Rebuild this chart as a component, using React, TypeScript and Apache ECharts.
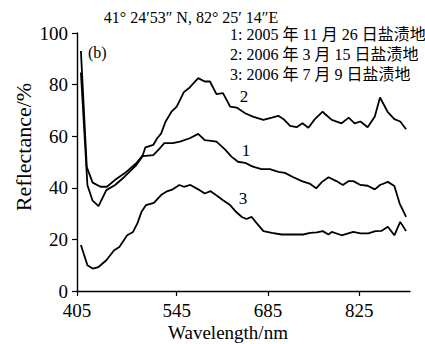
import React, { useEffect, useRef } from "react";
import * as echarts from "echarts";

const series1: [number, number][] = [
  [398, 84.7], [408, 41], [416, 35], [425, 32.9], [437, 39.1], [450, 41], [465, 44.3], [483, 48.8],
  [493, 52.3], [509, 52.7], [519, 55.3], [526, 57.3], [539, 57.3], [550, 57.9], [565, 59.2],
  [578, 60.9], [588, 58.5], [598, 58.2], [606, 57.9], [619, 54.9], [629, 52.1], [639, 50.1],
  [650, 49.7], [657, 48.8], [662, 48.2], [675, 47.2], [688, 47.2], [701, 46.2], [711, 45.8],
  [724, 44.1], [737, 42.6], [750, 41.5], [759, 39.8], [768, 42.3], [778, 44.1], [790, 42.6],
  [800, 41.1], [809, 42.6], [816, 42.6], [827, 41.1], [838, 40.8], [849, 39.4], [857, 41.1],
  [869, 42.3], [879, 40.7], [887, 34], [897, 28.7],
];

const series2: [number, number][] = [
  [398, 93], [407, 48], [416, 42], [428, 40.4], [438, 40.4], [450, 43], [465, 45.6], [483, 49.5],
  [493, 52.7], [497, 55.7], [509, 56.6], [515, 59.2], [521, 61], [528, 65.7], [537, 69.5],
  [545, 71.5], [556, 77.1], [565, 78.9], [578, 82.5], [588, 81.2], [596, 81.2], [606, 76.3],
  [616, 76.7], [627, 71.5], [637, 71.1], [650, 68.9], [662, 67.6], [678, 66.3], [691, 67.2],
  [701, 67.9], [709, 66.6], [719, 64], [729, 63.5], [738, 65], [747, 63.3], [757, 66.6],
  [769, 69.5], [773, 68.5], [783, 66.3], [798, 65], [809, 67.2], [818, 65], [827, 65.7],
  [838, 63.5], [849, 67.6], [857, 75], [869, 69.3], [879, 66.6], [888, 65.7], [897, 62.7],
];

const series3: [number, number][] = [
  [398, 17.8], [408, 10], [416, 8.7], [425, 9.3], [437, 11.9], [449, 15.8], [457, 17.1],
  [469, 21.6], [478, 22.9], [485, 26.4], [491, 30.7], [498, 33.3], [510, 34.2], [521, 37.2],
  [529, 38.5], [539, 39.4], [549, 41.1], [556, 40.4], [566, 41.1], [578, 39.4], [588, 37.8],
  [597, 38.7], [609, 36.5], [616, 35.2], [627, 33.3], [636, 30.7], [645, 28.7], [652, 27.9],
  [660, 28.7], [668, 26.2], [678, 23.2], [691, 22.5], [706, 21.9], [722, 21.9], [739, 21.9],
  [750, 22.5], [760, 22.7], [769, 23.2], [778, 21.9], [783, 22.9], [798, 21.6], [816, 22.9],
  [827, 22.3], [839, 22.3], [850, 23.2], [859, 23.3], [869, 24.9], [879, 21.6], [888, 26.8],
  [897, 23.2],
];

const xMin = 392;
const xMax = 903;
const xTickValues = [392, 545, 685, 825];
const xTickLabels = ["405", "545", "685", "825"];
const legendLines = [
  "1: 2005 年 11 月 26 日盐渍地",
  "2: 2006 年 3 月 15 日盐渍地",
  "3: 2006 年 7 月 9 日盐渍地",
];
const titleText = "41° 24′53″ N, 82° 25′ 14″E";

const SERIF = "Liberation Serif";
const SERIF_CJK = "Liberation Serif, Noto Sans CJK SC";

export default function App() {
  const ref = useRef<HTMLDivElement>(null);
  useEffect(() => {
    if (!ref.current) return;
    const chart = echarts.init(ref.current, undefined, { renderer: "svg" });
    const lineSeries = (data: [number, number][]) => ({
      type: "line",
      data,
      showSymbol: false,
      symbol: "none",
      lineStyle: { color: "#000", width: 1.8 },
      itemStyle: { color: "#000" },
    });
    const txt = (text: string, x: number, y: number, size: number, align = "center", family = SERIF) => ({
      type: "text",
      x,
      y,
      style: { text, fontSize: size, fontFamily: family, fill: "#000", textAlign: align, textVerticalAlign: "middle" },
    });
    chart.setOption({
      animation: false,
      backgroundColor: "#fff",
      grid: { left: 77, top: 33, right: 15, bottom: 53 },
      xAxis: {
        type: "value",
        min: xMin,
        max: xMax,
        axisLine: { show: true, lineStyle: { color: "#000", width: 1.4 } },
        axisTick: { show: true, length: 5, customValues: xTickValues, lineStyle: { color: "#000", width: 1.2 } },
        axisLabel: {
          customValues: xTickValues,
          formatter: (v: number) => {
            const i = xTickValues.indexOf(v);
            return i >= 0 ? xTickLabels[i] : "";
          },
          color: "#000",
          fontSize: 19,
          fontFamily: SERIF,
          margin: 10,
        },
        splitLine: { show: false },
      },
      yAxis: {
        type: "value",
        min: 0,
        max: 100,
        interval: 20,
        axisLine: { show: true, lineStyle: { color: "#000", width: 1.4 } },
        axisTick: { show: true, length: 5, lineStyle: { color: "#000", width: 1.2 } },
        axisLabel: { color: "#000", fontSize: 19, fontFamily: SERIF, margin: 9 },
        splitLine: { show: false },
      },
      series: [lineSeries(series1), lineSeries(series2), lineSeries(series3)],
      graphic: [
        txt(titleText, 191, 17, 16),
        ...legendLines.map((t, i) => txt(t, 230, 34 + i * 20, 16, "left", SERIF_CJK)),
        txt("(b)", 88, 52, 16, "left"),
        txt("2", 244, 96, 17),
        txt("1", 246, 150, 17),
        txt("3", 243, 198, 17),
        txt("Wavelength/nm", 228, 332, 19),
        {
          type: "text",
          x: 23,
          y: 147,
          rotation: Math.PI / 2,
          style: { text: "Reflectance/%", fontSize: 22, fontFamily: SERIF, fill: "#000", textAlign: "center", textVerticalAlign: "middle" },
        },
      ],
    });
    return () => chart.dispose();
  }, []);
  return <div ref={ref} style={{ width: 425, height: 344, position: "absolute", left: 0, top: 0 }} />;
}
